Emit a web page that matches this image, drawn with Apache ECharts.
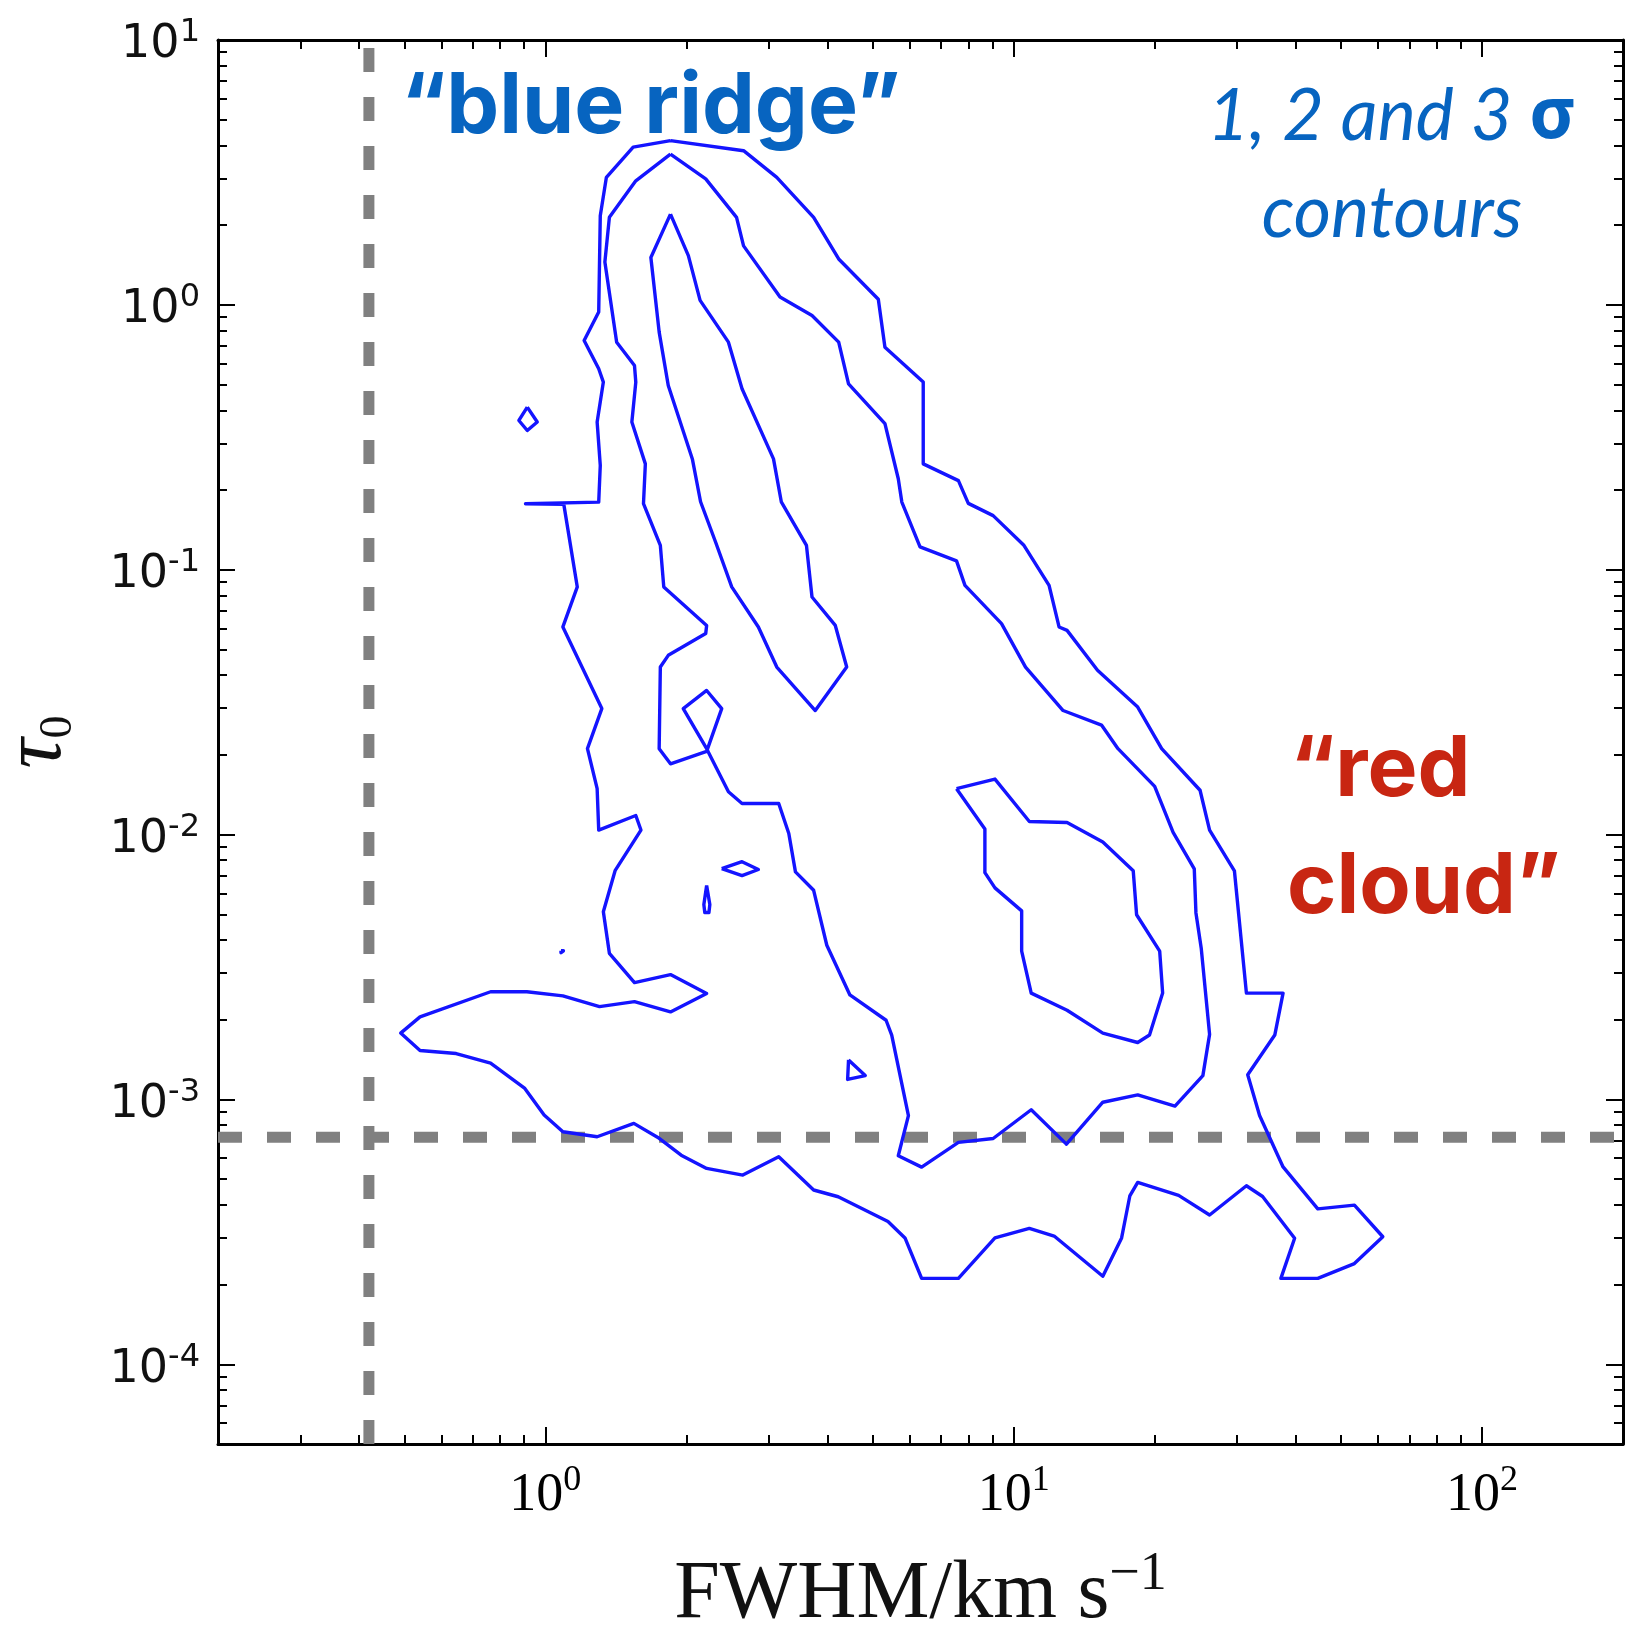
<!DOCTYPE html>
<html><head><meta charset="utf-8">
<script src="https://cdn.jsdelivr.net/npm/echarts@6/dist/echarts.min.js"></script>
<style>html,body{margin:0;padding:0;background:#fff}#c{width:1630px;height:1629px}</style>
</head><body><div id="c"></div>
<script>
// ---------- axis ranges & ticks ----------
const xMin = 0.2, xMax = 200;
const yMin = 5e-5, yMax = 10;
const xMajorTicks = [1, 10, 100];
const xMajorExps = ['0', '1', '2'];
const xMinorTicks = [0.3,0.4,0.5,0.6,0.7,0.8,0.9, 2,3,4,5,6,7,8,9, 20,30,40,50,60,70,80,90];
const yMajorTicks = [1e-4, 1e-3, 1e-2, 1e-1, 1, 10];
const yMajorExps = ['-4', '-3', '-2', '-1', '0', '1'];
const yMinorTicks = [6e-5,7e-5,8e-5,9e-5,
  2e-4,3e-4,4e-4,5e-4,6e-4,7e-4,8e-4,9e-4,
  2e-3,3e-3,4e-3,5e-3,6e-3,7e-3,8e-3,9e-3,
  0.02,0.03,0.04,0.05,0.06,0.07,0.08,0.09,
  0.2,0.3,0.4,0.5,0.6,0.7,0.8,0.9,
  2,3,4,5,6,7,8,9];

// ---------- reference lines ----------
const fwhmLimit = 0.42;
const tauLimit = 7.2e-4;

// ---------- contour paths [FWHM, tau] ----------
const outerContour = [[1.85,4.17],[2.65,3.82],[3.12,3.03],[3.74,2.14],[4.23,1.49],[5.14,1.05],[5.31,0.692],[6.41,0.511],[6.41,0.251],[7.62,0.217],[8.00,0.178],[9.04,0.160],[10.5,0.124],[11.9,0.0873],[12.5,0.0608],[13.0,0.0590],[15.1,0.0417],[18.4,0.0303],[20.7,0.0211],[25.0,0.0147],[26.2,0.0104],[29.6,0.0073],[31.4,0.00252],[37.6,0.00252],[36.1,0.00175],[31.6,0.00124],[33.5,0.00087],[37.6,0.000556],[44.6,0.000386],[53.4,0.000399],[61.4,0.000303],[53.4,0.00024],[44.6,0.000211],[37.2,0.000211],[39.8,0.000299],[34.0,0.00043],[31.4,0.000472],[26.2,0.000366],[22.5,0.000434],[18.4,0.000486],[17.7,0.000432],[17.0,0.0003],[15.5,0.000215],[12.2,0.000305],[10.8,0.000326],[9.12,0.0003],[7.62,0.000211],[6.36,0.000211],[5.86,0.0003],[5.39,0.000346],[4.22,0.000429],[3.74,0.000455],[3.15,0.000608],[2.64,0.000518],[2.21,0.000549],[1.95,0.000616],[1.75,0.000713],[1.545,0.000812],[1.29,0.000723],[1.09,0.000755],[0.994,0.000873],[0.904,0.0011],[0.764,0.00137],[0.645,0.00149],[0.540,0.00153],[0.491,0.00178],[0.540,0.00205],[0.764,0.00255],[0.913,0.00255],[1.09,0.00246],[1.305,0.00224],[1.55,0.00234],[1.85,0.00214],[2.21,0.00251],[1.85,0.00296],[1.55,0.00276],[1.37,0.00356],[1.33,0.00511],[1.41,0.00733],[1.60,0.0104],[1.56,0.0118],[1.30,0.0104],[1.29,0.0149],[1.23,0.0211],[1.32,0.0299],[1.09,0.0608],[1.17,0.0861],[1.095,0.1765],[0.907,0.1775],[1.30,0.180],[1.31,0.2475],[1.29,0.361],[1.33,0.511],[1.30,0.574],[1.21,0.733],[1.30,0.939],[1.31,2.17],[1.35,3.03],[1.54,3.94],[1.85,4.17]];

const middleContour = [[1.85,3.71],[2.20,2.99],[2.56,2.14],[2.65,1.67],[3.17,1.07],[3.71,0.911],[4.23,0.723],[4.44,0.503],[5.31,0.356],[5.67,0.2205],[5.77,0.180],[6.31,0.122],[7.55,0.108],[7.87,0.0873],[9.42,0.0626],[10.6,0.0429],[12.75,0.0294],[15.4,0.0259],[16.7,0.0211],[20.0,0.0152],[21.9,0.0102],[24.3,0.00742],[24.5,0.00506],[25.15,0.00371],[26.2,0.00176],[25.35,0.00123],[22.1,0.000944],[18.4,0.00104],[15.5,0.000976],[12.96,0.000678],[10.9,0.000914],[9.04,0.000712],[7.62,0.000688],[6.36,0.000555],[5.67,0.000613],[5.96,0.000869],[5.49,0.00175],[5.34,0.00199],[4.47,0.00248],[3.99,0.00382],[3.74,0.00616],[3.42,0.00723],[3.31,0.0101],[3.15,0.0131],[2.63,0.0131],[2.46,0.0145],[2.21,0.0211],[1.97,0.0299],[2.21,0.0350],[2.38,0.0299],[2.21,0.0206],[1.85,0.0185],[1.75,0.0211],[1.76,0.0429],[1.83,0.0475],[2.20,0.0574],[2.21,0.0616],[1.79,0.0861],[1.76,0.1235],[1.62,0.1775],[1.635,0.251],[1.53,0.361],[1.56,0.511],[1.55,0.590],[1.42,0.723],[1.34,1.45],[1.37,2.14],[1.56,2.94],[1.85,3.71]];

const innerRidge = [[1.85,2.20],[2.02,1.535],[2.14,1.04],[2.46,0.723],[2.63,0.482],[3.07,0.262],[3.19,0.1805],[3.61,0.1235],[3.71,0.0789],[4.16,0.0616],[4.40,0.0429],[3.77,0.0294],[3.12,0.0429],[2.85,0.0608],[2.50,0.0861],[2.31,0.127],[2.145,0.1805],[2.06,0.262],[1.83,0.496],[1.75,0.789],[1.68,1.51],[1.85,2.20]];

const redCloudCore = [[7.55,0.0149],[9.12,0.0162],[10.8,0.0112],[13.0,0.0111],[15.5,0.00937],[18.0,0.0073],[18.3,0.00498],[20.5,0.00363],[20.8,0.00252],[19.5,0.00175],[18.4,0.00164],[15.5,0.00178],[13.0,0.00217],[10.9,0.00252],[10.4,0.00363],[10.4,0.00515],[9.12,0.00629],[8.68,0.00718],[8.68,0.0105],[7.55,0.0149]];

const islandDiamond = [[0.915,0.411],[0.961,0.361],[0.915,0.3355],[0.878,0.366],[0.915,0.411]];
const islandLens = [[2.38,0.00744],[2.63,0.0079],[2.85,0.00738],[2.63,0.0070],[2.38,0.00744]];
const islandDrop = [[2.21,0.00642],[2.245,0.00544],[2.235,0.00508],[2.19,0.00508],[2.18,0.00544],[2.21,0.00642]];
const islandDot = [[1.08,0.00364],[1.093,0.00364],[1.093,0.00358],[1.08,0.00358],[1.08,0.00364]];
const islandTriangle = [[4.44,0.00141],[4.82,0.00123],[4.42,0.00119],[4.44,0.00141]];

// ---------- styling ----------
const CONTOUR = '#1414ff';
const BLUE_TXT = '#0764c0';
const RED_TXT = '#c82612';

function contour(name, data) {
  return { type: 'line', name, data, xAxisIndex: 0, yAxisIndex: 0,
    symbol: 'none', showSymbol: false, smooth: false, silent: true, z: 3,
    lineStyle: { color: CONTOUR, width: 3.4, join: 'round' } };
}
function dashed(name, data) {
  return { type: 'line', name, data, xAxisIndex: 0, yAxisIndex: 0,
    symbol: 'none', showSymbol: false, silent: true, z: 2,
    lineStyle: { color: '#808080', width: 11, type: [24, 25], cap: 'butt' } };
}

function expLabel(vals, exps) {
  return function (v) {
    let best = 0, bd = Infinity;
    vals.forEach((t, i) => { const d = Math.abs(Math.log10(v) - Math.log10(t)); if (d < bd) { bd = d; best = i; } });
    return '{b|10}{s|' + exps[best] + '}';
  };
}

const tickStyle = { color: '#000', width: 2 };
function baseAxis(min, max, pos) {
  return { type: 'log', logBase: 10, min, max, position: pos, silent: true,
    splitLine: { show: false }, axisLabel: { show: false },
    axisTick: { show: false }, axisLine: { show: false } };
}
function majorAxis(min, max, pos, ticks, withLine) {
  const a = baseAxis(min, max, pos);
  a.axisLine = { show: withLine, onZero: false, lineStyle: { color: '#000', width: 3 } };
  a.axisTick = { show: true, inside: true, length: 17, lineStyle: tickStyle, customValues: ticks };
  return a;
}
function minorAxis(min, max, pos, ticks) {
  const a = baseAxis(min, max, pos);
  a.axisTick = { show: true, inside: true, length: 9, lineStyle: tickStyle, customValues: ticks };
  return a;
}

const xBottom = majorAxis(xMin, xMax, 'bottom', xMajorTicks, true);
xBottom.axisLabel = { show: true, customValues: xMajorTicks, margin: 19,
  formatter: expLabel(xMajorTicks, xMajorExps),
  rich: { b: { fontFamily: 'Liberation Serif', fontSize: 54, lineHeight: 54, padding: [11, 0, 0, 0], color: '#000' },
          s: { fontFamily: 'Liberation Serif', fontSize: 36, lineHeight: 36, verticalAlign: 'top', color: '#000' } } };
xBottom.name = '{m|FWHM/km s}{u|\u22121}';
xBottom.nameLocation = 'middle';
xBottom.nameGap = 104;
xBottom.nameTextStyle = { rich: {
  m: { fontFamily: 'Liberation Serif', fontSize: 82, lineHeight: 82, padding: [12, 0, 0, 0], color: '#111' },
  u: { fontFamily: 'Liberation Serif', fontSize: 54, lineHeight: 54, verticalAlign: 'top', color: '#111' } } };

const yLeft = majorAxis(yMin, yMax, 'left', yMajorTicks, true);
yLeft.axisLabel = { show: true, customValues: yMajorTicks, margin: 18,
  formatter: expLabel(yMajorTicks, yMajorExps),
  rich: { b: { fontFamily: 'DejaVu Sans', fontSize: 46, lineHeight: 46, padding: [11, 0, 0, 0], color: '#111' },
          s: { fontFamily: 'DejaVu Sans', fontSize: 32, lineHeight: 32, verticalAlign: 'top', color: '#111' } } };
yLeft.name = '{t|\u03c4}{d|0}';
yLeft.nameLocation = 'middle';
yLeft.nameRotate = 90;
yLeft.nameGap = 136;
yLeft.nameTextStyle = { rich: {
  t: { fontFamily: 'Liberation Serif', fontStyle: 'italic', fontSize: 84, lineHeight: 84, padding: [0, 0, 4, 0], color: '#111' },
  d: { fontFamily: 'Liberation Serif', fontSize: 46, lineHeight: 46, verticalAlign: 'bottom', color: '#111' } } };

const option = {
  animation: false,
  backgroundColor: '#fff',
  grid: { left: 218, top: 40, right: 7, bottom: 185, containLabel: false, outerBoundsMode: 'none' },
  xAxis: [
    xBottom,
    minorAxis(xMin, xMax, 'bottom', xMinorTicks),
    majorAxis(xMin, xMax, 'top', xMajorTicks, true),
    minorAxis(xMin, xMax, 'top', xMinorTicks)
  ],
  yAxis: [
    yLeft,
    minorAxis(yMin, yMax, 'left', yMinorTicks),
    majorAxis(yMin, yMax, 'right', yMajorTicks, true),
    minorAxis(yMin, yMax, 'right', yMinorTicks)
  ],
  series: [
    dashed('FWHM limit', [[fwhmLimit, yMin], [fwhmLimit, yMax]]),
    dashed('tau limit', [[xMin, tauLimit], [xMax, tauLimit]]),
    contour('outer', outerContour),
    contour('middle', middleContour),
    contour('inner ridge', innerRidge),
    contour('red cloud core', redCloudCore),
    contour('island 1', islandDiamond),
    contour('island 2', islandLens),
    contour('island 3', islandDrop),
    contour('island 4', islandDot),
    contour('island 5', islandTriangle)
  ],
  graphic: [
    { type: 'text', x: 401, y: 108, silent: true, z: 10,
      style: { text: '\u201cblue ridge\u201d', font: '700 84px Inter', fill: BLUE_TXT, align: 'left', verticalAlign: 'middle' } },
    { type: 'text', x: 1392, y: 117, silent: true, z: 10,
      style: { text: '{i|1, 2 and 3 }{s|\u03c3}', align: 'center', verticalAlign: 'middle',
        rich: { i: { font: 'italic 72px Lato', fill: BLUE_TXT },
                s: { font: 'bold 72px "Noto Sans"', fill: BLUE_TXT } } } },
    { type: 'text', x: 1392, y: 214, silent: true, z: 10,
      style: { text: 'contours', font: 'italic 72px Lato', fill: BLUE_TXT, align: 'center', verticalAlign: 'middle' } },
    { type: 'text', x: 1290, y: 771, silent: true, z: 10,
      style: { text: '\u201cred', font: '700 84px Inter', fill: RED_TXT, align: 'left', verticalAlign: 'middle' } },
    { type: 'text', x: 1287, y: 888, silent: true, z: 10,
      style: { text: 'cloud\u201d', font: '700 84px Inter', fill: RED_TXT, align: 'left', verticalAlign: 'middle' } }
  ]
};

const chart = echarts.init(document.getElementById('c'), null, { renderer: 'canvas' });
chart.setOption(option);
</script></body></html>
